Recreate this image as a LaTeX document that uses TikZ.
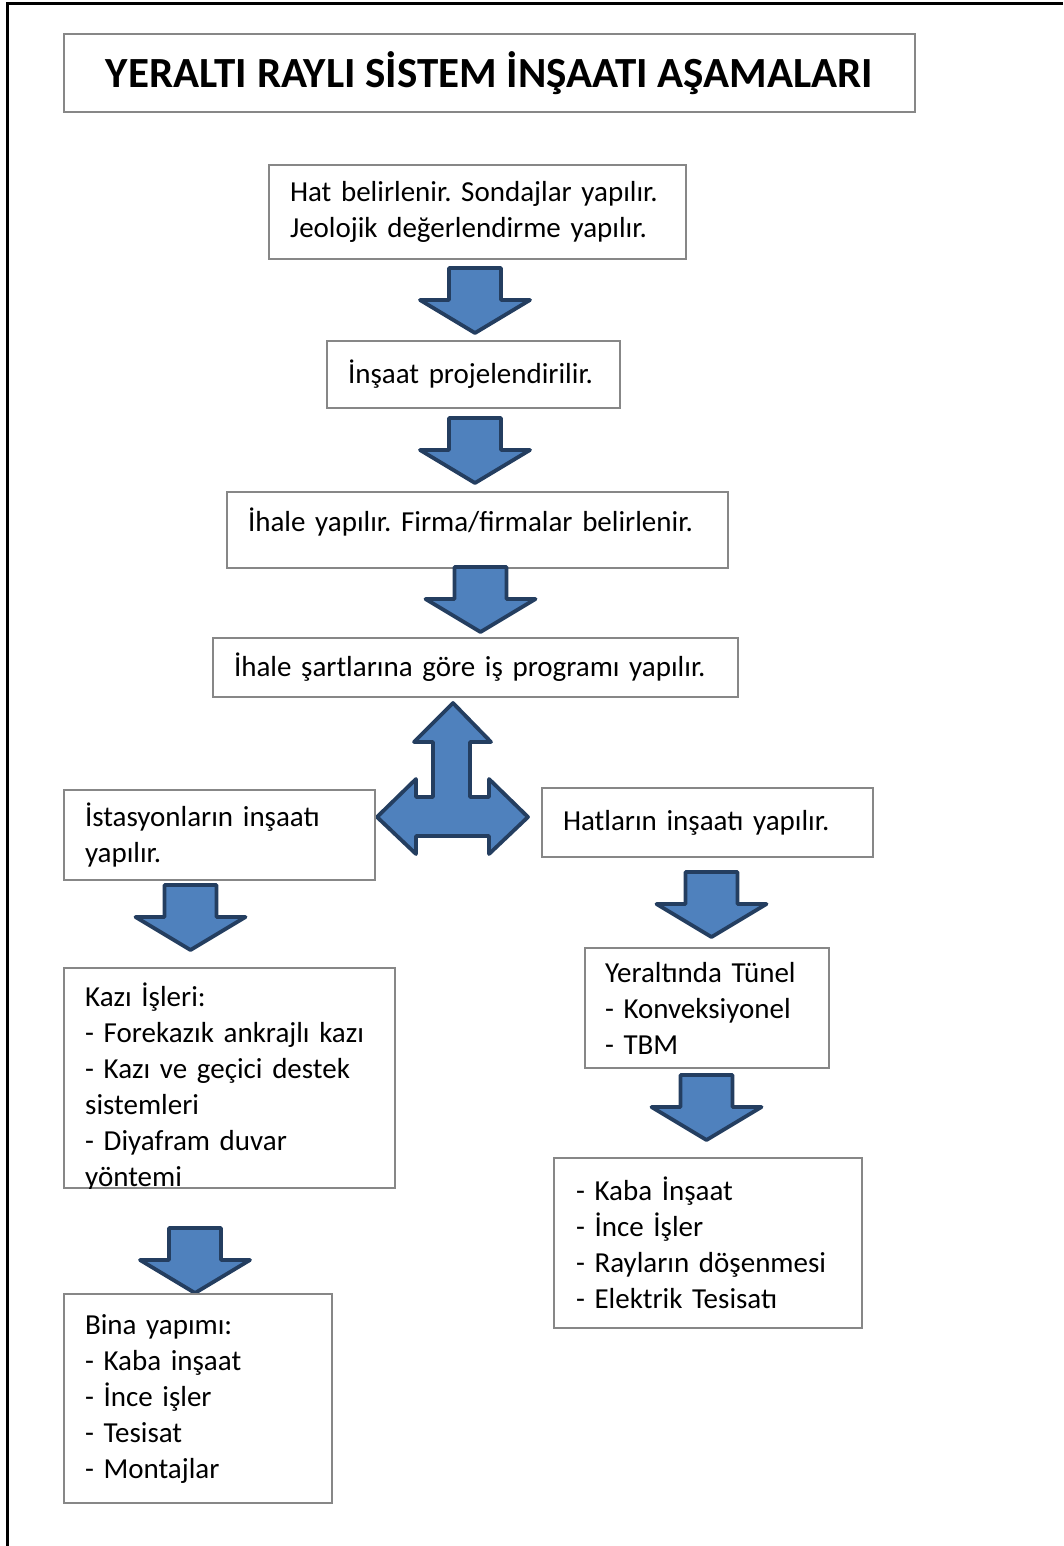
\documentclass[tikz,border=0pt]{standalone}
\usepackage{fontspec}
\setmainfont{Carlito}
\usetikzlibrary{calc,positioning}
\definecolor{boxgray}{RGB}{135,135,135}
\definecolor{arrowblue}{RGB}{79,129,189}
\definecolor{arrowedge}{RGB}{36,62,96}
\frenchspacing
% block arrow pointing down, top centre at (#1,#2)
\newcommand{\downblock}[2]{%
  \filldraw[blockarrow,shift={(#1,#2)}] (-26,0) -- (26,0) -- (26,32) -- (55,32)
    -- (0,65) -- (-55,32) -- (-26,32) -- cycle;}

\begin{document}
\begin{tikzpicture}[x=1pt,y=-1pt,
  box/.style={draw=boxgray,line width=1.6pt,rectangle,align=left,inner xsep=21pt,inner ysep=0pt,
    font=\fontsize{29}{36}\selectfont},
  txt/.style={inner sep=0pt,align=left,font=\fontsize{29}{36}\selectfont},
  blockarrow/.style={fill=arrowblue,draw=arrowedge,line width=3.8pt,line join=round}]
  \useasboundingbox (0,0) rectangle (1063,1546);
  % outer frame (left and top only)
  \draw[line width=3pt] (7,1546) -- (7,4) -- (1063,4);

  \node[box,align=center,inner xsep=0pt,minimum width=851pt,minimum height=78pt,
    font=\fontsize{43}{50}\selectfont\bfseries] (title) at (489.5,73)
    {YERALTI RAYLI SİSTEM İNŞAATI AŞAMALARI};

  % main column
  \node[box,text width=375pt,minimum height=94pt] (hat) at (477.5,212)
    {Hat belirlenir. Sondajlar yapılır.\\Jeolojik değerlendirme yapılır.};
  \downblock{475}{268}
  \node[box,text width=251pt,minimum height=67pt] (proje) at (473.5,374.5)
    {İnşaat projelendirilir.};
  \downblock{475}{418}
  \node[box,text width=459pt,minimum height=76pt] (ihale) at (477.5,530)
    {İhale yapılır. Firma/firmalar belirlenir.\\[-15pt]\mbox{}};
  \downblock{480.5}{567}
  \node[box,text width=483pt,minimum height=59pt] (program) at (475.5,667.5)
    {İhale şartlarına göre iş programı yapılır.};

  % three-way arrow
  \filldraw[blockarrow] (453,703) -- (491,742) -- (470,742) -- (470,797) -- (489,797)
    -- (489,779) -- (528,817) -- (489,854) -- (489,836) -- (416,836) -- (416,854)
    -- (377,817) -- (416,779) -- (416,797) -- (433,797) -- (433,742) -- (414,742) -- cycle;

  % left branch: stations
  \node[box,text width=269pt,minimum height=90pt] (istasyon) at (219.5,835)
    {İstasyonların inşaatı\\yapılır.};
  \downblock{190.5}{885}
  \node[box,minimum width=331pt,minimum height=220pt] (kazi) at (229.5,1078) {};
  \begin{scope}
    \clip (kazi.north west) rectangle (kazi.south east);
    \node[txt,anchor=north west,text width=300pt] (kazitxt) at (85,983)
      {Kazı İşleri:\\- Forekazık ankrajlı kazı\\- Kazı ve geçici destek\\sistemleri\\- Diyafram duvar\\yöntemi};
  \end{scope}
  \downblock{195}{1228}
  \node[box,text width=226pt,minimum height=209pt] (bina) at (198,1398.5)
    {Bina yapımı:\\- Kaba inşaat\\- İnce işler\\- Tesisat\\- Montajlar};

  % right branch: lines
  \node[box,text width=289pt,minimum height=69pt] (hatlar) at (707.5,822.5)
    {Hatların inşaatı yapılır.};
  \downblock{711.5}{872}
  \node[box,inner xsep=20pt,text width=204pt,minimum height=120pt] (tunel) at (707,1008)
    {Yeraltında Tünel\\- Konveksiyonel\\- TBM};
  \downblock{706.5}{1075}
  \node[box,inner xsep=22pt,text width=264pt,minimum height=170pt] (kaba) at (708,1243)
    {- Kaba İnşaat\\- İnce İşler\\- Rayların döşenmesi\\- Elektrik Tesisatı};
\end{tikzpicture}
\end{document}
